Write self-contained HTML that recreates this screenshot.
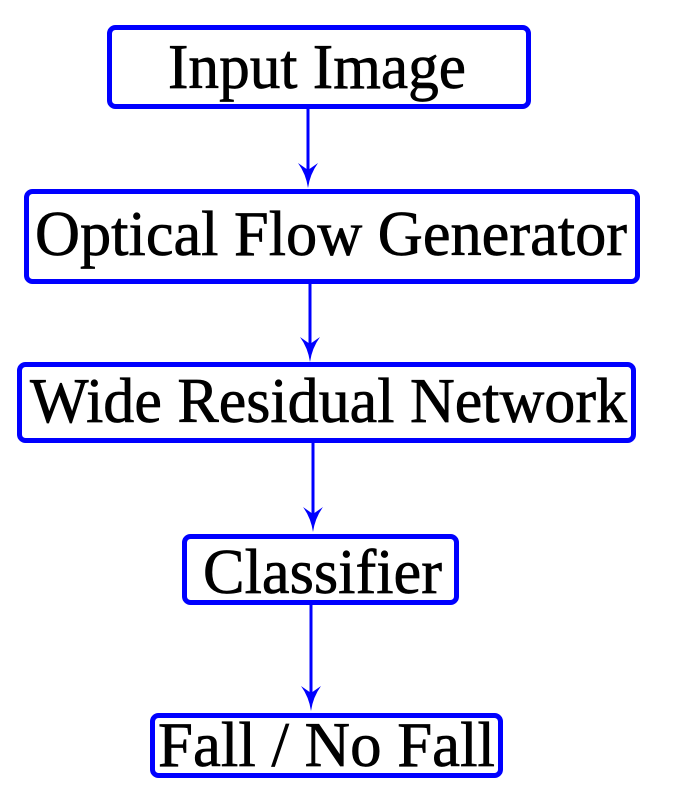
<!DOCTYPE html>
<html><head><meta charset="utf-8"><style>html,body{margin:0;padding:0;background:#fff}svg{display:block}</style></head>
<body>
<svg width="676" height="793" viewBox="0 0 676 793" xmlns="http://www.w3.org/2000/svg">
<g fill="none" stroke="#0000ff" stroke-width="5">
<rect x="109.5" y="27.5" width="419" height="79" rx="6"/>
<rect x="26.5" y="191.5" width="611" height="90" rx="6"/>
<rect x="19.5" y="364.5" width="614" height="76" rx="6"/>
<rect x="184.5" y="536.5" width="272" height="66" rx="6"/>
<rect x="152.5" y="715.5" width="348" height="60" rx="6"/>
</g>
<g stroke="#0000ff" stroke-width="3" fill="none">
<line x1="308" y1="109" x2="308" y2="175"/>
<line x1="310" y1="284" x2="310" y2="350"/>
<line x1="313" y1="443" x2="313" y2="520"/>
<line x1="311" y1="605" x2="311" y2="699"/>
</g>
<g fill="#0000ff">
<path d="M308 188 Q306 174 298 163 L308 170 L318 163 Q310 174 308 188 Z"/>
<path d="M310 362 Q308 348 300 337 L310 344 L320 337 Q312 348 310 362 Z"/>
<path d="M313 532 Q311 518 303 507 L313 514 L323 507 Q315 518 313 532 Z"/>
<path d="M311 711 Q309 697 301 686 L311 693 L321 686 Q313 697 311 711 Z"/>
</g>
<g font-family="'Liberation Serif', serif" font-size="64" fill="#000" stroke="#000" stroke-width="0.7">
<text x="168" y="88" textLength="298" lengthAdjust="spacingAndGlyphs">Input Image</text>
<text x="35" y="255" textLength="592" lengthAdjust="spacingAndGlyphs">Optical Flow Generator</text>
<text x="30" y="422" textLength="597" lengthAdjust="spacingAndGlyphs">Wide Residual Network</text>
<text x="203" y="593" textLength="239" lengthAdjust="spacingAndGlyphs">Classifier</text>
<text x="158" y="766" textLength="337" lengthAdjust="spacingAndGlyphs">Fall / No Fall</text>
</g>
</svg>
</body></html>
